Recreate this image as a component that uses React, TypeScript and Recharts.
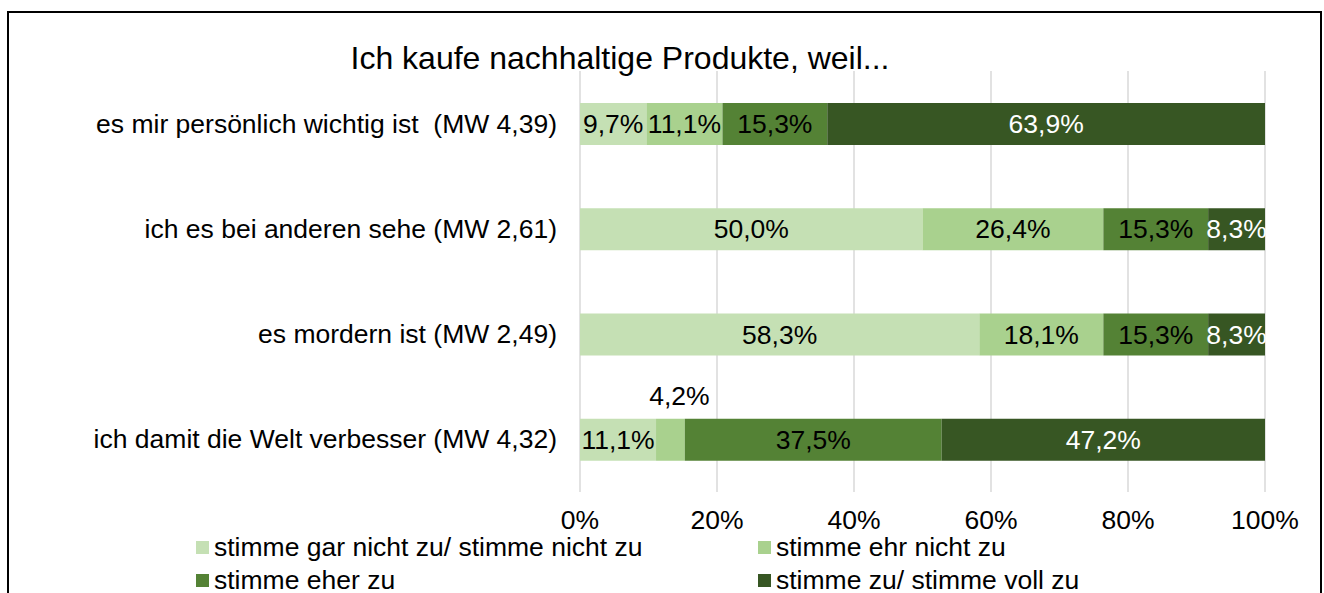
import { BarChart, Bar, XAxis, YAxis, CartesianGrid, LabelList } from 'recharts'

const categories = [
  'es mir persönlich wichtig ist  (MW 4,39)',
  'ich es bei anderen sehe (MW 2,61)',
  'es mordern ist (MW 2,49)',
  'ich damit die Welt verbesser (MW 4,32)',
]
const garNicht = [9.7, 50.0, 58.3, 11.1]
const ehrNicht = [11.1, 26.4, 18.1, 4.2]
const eherZu = [15.3, 15.3, 15.3, 37.5]
const vollZu = [63.9, 8.3, 8.3, 47.2]
const xTicks = [0, 20, 40, 60, 80, 100]

const series = [
  { key: 'garNicht', name: 'stimme gar nicht zu/ stimme nicht zu', color: '#c5e0b4', text: '#000' },
  { key: 'ehrNicht', name: 'stimme ehr nicht zu', color: '#a9d18e', text: '#000' },
  { key: 'eherZu', name: 'stimme eher zu', color: '#548235', text: '#000' },
  { key: 'vollZu', name: 'stimme zu/ stimme voll zu', color: '#375623', text: '#fff' },
]

const data = categories.map((name, i) => ({
  name,
  garNicht: garNicht[i],
  ehrNicht: ehrNicht[i],
  eherZu: eherZu[i],
  vollZu: vollZu[i],
}))

const font = '"Liberation Sans", Arial, sans-serif'
const fs = 26.5
const fmt = (v: number) => v.toFixed(1).replace('.', ',') + '%'

const makeLabel = (color: string) => (props: any) => {
  const { x, y, width, height, value } = props
  if (value == null) return null
  const small = width < 40
  const cx = x + width / 2 + (small ? 9 : 0)
  const cy = small ? y - 23 : y + height / 2
  return (
    <text
      x={cx}
      y={cy}
      textAnchor="middle"
      dominantBaseline="central"
      fill={small ? '#000' : color}
      fontSize={fs}
      fontFamily={font}
    >
      {fmt(Number(value))}
    </text>
  )
}

const CategoryTick = ({ x, y, payload }: any) => (
  <text
    x={x}
    y={y}
    textAnchor="end"
    dominantBaseline="central"
    fill="#000"
    fontSize={fs}
    fontFamily={font}
    style={{ whiteSpace: 'pre' }}
  >
    {payload.value}
  </text>
)

export default function App() {
  return (
    <div style={{ position: 'absolute', left: 0, top: 0, width: 1324, height: 593, overflow: 'hidden', background: '#fff', fontFamily: font }}>
      <div style={{ position: 'absolute', left: 7, top: 11, width: 1311, height: 600, border: '2px solid #000' }} />
      <div style={{ position: 'absolute', left: 0, top: 0 }}>
        <BarChart
          width={1324}
          height={593}
          data={data}
          layout="vertical"
          margin={{ top: 71, right: 59, bottom: 61, left: 0 }}
        >
          <CartesianGrid horizontal={false} stroke="#d9d9d9" strokeWidth={1.5} />
          <XAxis
            type="number"
            domain={[0, 100]}
            ticks={xTicks}
            tickFormatter={(v: number) => v + '%'}
            axisLine={false}
            tickLine={false}
            tickMargin={12}
            height={40}
            tick={{ fill: '#000', fontSize: fs, fontFamily: font }}
          />
          <YAxis
            type="category"
            dataKey="name"
            width={580}
            axisLine={false}
            tickLine={false}
            tickMargin={17}
            tick={<CategoryTick />}
          />
          {series.map((s) => (
            <Bar key={s.key} dataKey={s.key} name={s.name} stackId="a" fill={s.color} barSize={42} isAnimationActive={false}>
              <LabelList dataKey={s.key} content={makeLabel(s.text)} />
            </Bar>
          ))}
        </BarChart>
      </div>
      <div style={{ position: 'absolute', left: 0, width: 1240, top: 39, textAlign: 'center', fontSize: 32, lineHeight: '38px', color: '#000' }}>
        Ich kaufe nachhaltige Produkte, weil...
      </div>
      {series.map((s, i) => (
        <div
          key={s.key}
          style={{
            position: 'absolute',
            left: i % 2 === 0 ? 196 : 758,
            top: i < 2 ? 532 : 565,
            height: 30,
            display: 'flex',
            alignItems: 'center',
            fontSize: fs,
            color: '#000',
            whiteSpace: 'nowrap',
          }}
        >
          <span style={{ display: 'inline-block', width: 13, height: 13, background: s.color, marginRight: 5 }} />
          {s.name}
        </div>
      ))}
    </div>
  )
}
